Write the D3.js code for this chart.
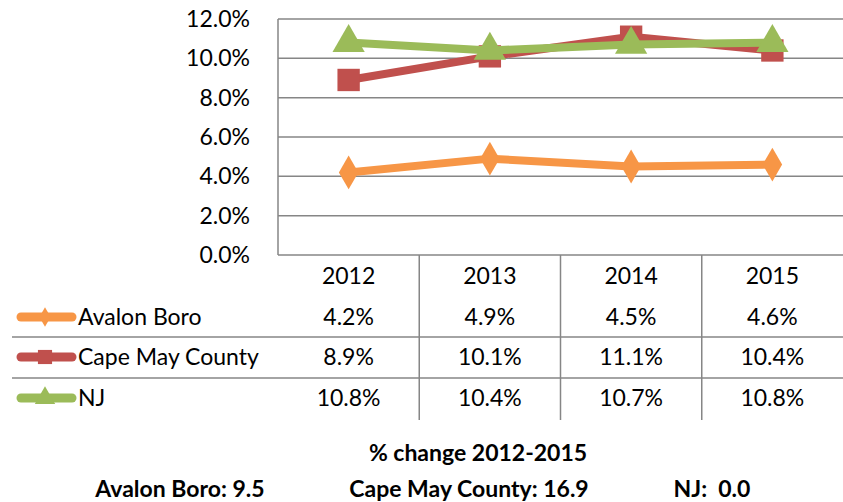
<!DOCTYPE html>
<html><head><meta charset="utf-8">
<script src="https://cdn.jsdelivr.net/npm/d3@7/dist/d3.min.js"></script>
<style>body{margin:0;background:#fff}svg{display:block;font-family:Lato,"Open Sans",sans-serif}</style>
</head><body><svg id="c" width="843" height="502"></svg>
<script>
const years = ["2012","2013","2014","2015"];
const seriesNames = ["Avalon Boro","Cape May County","NJ"];
const avalon = [4.2,4.9,4.5,4.6];
const capeMay = [8.9,10.1,11.1,10.4];
const nj = [10.8,10.4,10.7,10.8];
const yTicks = [0,2,4,6,8,10,12];
const changeTitle = "% change 2012-2015";
const changeLabels = ["Avalon Boro: 9.5","Cape May County: 16.9","NJ:  0.0"];

const colors = ["#F79646","#C0504D","#9BBB59"];
const shapes = [d3.symbolDiamond,d3.symbolSquare,d3.symbolTriangle];
const allSeries = [avalon,capeMay,nj];

const svg = d3.select("#c");
const pL=278,pR=843,pT=19,pB=255;
const x = d3.scaleBand().domain(years).range([pL,pR]);
const y = d3.scaleLinear().domain([0,12]).range([pB,pT]);
const grid="#868686";
const fs=23;

svg.append("g").selectAll("line").data(yTicks).join("line")
 .attr("x1",pL).attr("x2",pR).attr("y1",d=>y(d)).attr("y2",d=>y(d))
 .attr("stroke",grid).attr("stroke-width",1.5);
svg.append("line").attr("x1",pL).attr("x2",pL).attr("y1",pT).attr("y2",pB).attr("stroke",grid).attr("stroke-width",1.5);
svg.append("g").selectAll("text").data(yTicks).join("text")
 .attr("x",pL-28).attr("y",d=>y(d)).attr("dy","0.35em").attr("text-anchor","end")
 .attr("font-size",fs).attr("fill","#000").text(d=>d.toFixed(1)+"%");

const tableBottom=420;
svg.append("g").selectAll("line").data(years.slice(1)).join("line")
 .attr("x1",d=>x(d)).attr("x2",d=>x(d)).attr("y1",pB).attr("y2",tableBottom)
 .attr("stroke",grid).attr("stroke-width",1.5);
svg.append("g").selectAll("text").data(years).join("text")
 .attr("x",d=>x(d)+x.bandwidth()/2).attr("y",276).attr("dy","0.35em").attr("text-anchor","middle")
 .attr("font-size",fs).text(d=>d);
const rowY=[317,357,398];
const rowLines=[337,378];
svg.append("g").selectAll("line").data(rowLines).join("line")
 .attr("x1",12).attr("x2",pR).attr("y1",d=>d).attr("y2",d=>d)
 .attr("stroke",grid).attr("stroke-width",1.5);

seriesNames.forEach((name,i)=>{
  const g=svg.append("g");
  g.append("line").attr("x1",21).attr("x2",72).attr("y1",rowY[i]).attr("y2",rowY[i])
   .attr("stroke",colors[i]).attr("stroke-width",9).attr("stroke-linecap","round");
  g.append("path").attr("d",d3.symbol().type(shapes[i]).size(i==0?110:i==1?200:180)())
   .attr("transform",`translate(45,${rowY[i]})`).attr("fill",colors[i]);
  g.append("text").attr("x",78).attr("y",rowY[i]).attr("dy","0.35em").attr("font-size",fs).text(name);
  g.selectAll("text.v").data(allSeries[i]).join("text").attr("class","v")
   .attr("x",(d,j)=>x(years[j])+x.bandwidth()/2).attr("y",rowY[i]).attr("dy","0.35em")
   .attr("text-anchor","middle").attr("font-size",fs).text(d=>d.toFixed(1)+"%");
});

const line=d3.line().x((d,j)=>x(years[j])+x.bandwidth()/2).y(d=>y(d));
allSeries.forEach((s,i)=>{
  svg.append("path").datum(s).attr("d",line).attr("fill","none")
   .attr("stroke",colors[i]).attr("stroke-width",8).attr("stroke-linejoin","round");
  svg.append("g").selectAll("path").data(s).join("path")
   .attr("d",d3.symbol().type(shapes[i]).size(i==0?330:i==1?500:450)())
   .attr("transform",(d,j)=>`translate(${x(years[j])+x.bandwidth()/2},${y(d)})`)
   .attr("fill",colors[i]);
});

svg.append("text").attr("x",478).attr("y",453).attr("dy","0.35em").attr("text-anchor","middle")
 .attr("font-size",fs).attr("font-weight","bold").text(changeTitle);
const cx=[180,469,712];
svg.append("g").selectAll("text").data(changeLabels).join("text")
 .attr("x",(d,i)=>cx[i]).attr("y",489).attr("dy","0.35em").attr("text-anchor","middle")
 .attr("font-size",fs).attr("font-weight","bold").style("white-space","pre").text(d=>d);
</script></body></html>
